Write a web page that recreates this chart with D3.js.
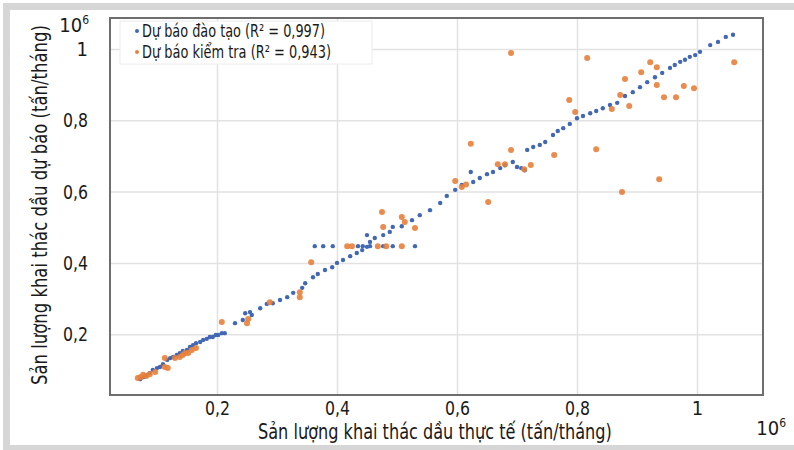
<!DOCTYPE html>
<html>
<head>
<meta charset="utf-8">
<script src="https://cdn.jsdelivr.net/npm/d3@7"></script>
<style>
  body { margin: 0; background: #fff; }
  svg text { font-family: "Liberation Sans Narrow", "DejaVu Sans Condensed", sans-serif; fill: #1a1a1a; }
</style>
</head>
<body>
<div class="canvas"></div>
<script>
const W = 794, H = 450;
const padL = 110, padR = 763, padT = 18, padB = 395;

// training forecast (blue), values in 10^6 t/month
const trainX = [0.072,0.078,0.083,0.088,0.093,0.100,0.105,0.110,0.117,0.122,0.127,0.133,0.138,0.143,0.150,0.155,0.160,0.165,0.172,0.177,0.183,0.188,0.193,0.198,0.202,0.208,0.213,
  0.230,0.243,0.258,0.247,0.255,0.272,0.283,0.293,0.305,0.317,0.327,0.342,0.347,0.360,0.368,0.380,0.392,0.400,0.410,0.422,0.433,0.442,0.450,0.455,0.450,0.463,0.477,0.488,0.493,0.508,0.525,0.538,0.555,0.572,0.583,
  0.363,0.377,0.393,0.435,0.443,0.455,0.477,0.493,0.530,
  0.597,0.608,0.623,0.627,0.638,0.650,0.660,0.672,0.680,0.693,0.700,0.707,0.713,0.717,0.727,0.738,0.747,0.760,0.768,0.777,0.788,0.800,0.810,0.822,0.832,0.843,0.855,0.867,0.880,0.893,0.905,0.917,0.930,0.942,0.955,0.963,0.972,0.980,0.988,0.997,1.005,1.022,1.035,1.048,1.060];
const trainY = [0.074,0.080,0.086,0.091,0.100,0.105,0.108,0.116,0.128,0.133,0.136,0.142,0.147,0.153,0.156,0.164,0.169,0.175,0.178,0.184,0.187,0.192,0.192,0.198,0.198,0.203,0.203,
  0.231,0.240,0.254,0.259,0.262,0.273,0.285,0.287,0.296,0.304,0.316,0.330,0.343,0.360,0.369,0.380,0.388,0.400,0.408,0.419,0.428,0.436,0.445,0.459,0.478,0.470,0.478,0.487,0.501,0.503,0.520,0.534,0.548,0.568,0.588,
  0.447,0.447,0.447,0.447,0.447,0.447,0.447,0.447,0.447,
  0.605,0.619,0.655,0.627,0.638,0.649,0.655,0.666,0.674,0.683,0.669,0.666,0.660,0.717,0.725,0.731,0.739,0.759,0.770,0.778,0.790,0.806,0.812,0.820,0.826,0.834,0.843,0.849,0.868,0.879,0.893,0.907,0.921,0.933,0.947,0.955,0.964,0.970,0.978,0.983,0.992,1.011,1.020,1.034,1.040];

// test forecast (orange)
const testX = [0.068,0.073,0.077,0.082,0.088,0.097,0.113,0.118,0.113,0.130,0.138,0.143,0.147,0.152,0.158,0.165,
  0.208,0.250,0.252,0.288,0.338,0.338,0.357,0.417,0.425,0.468,0.482,0.508,0.475,0.477,0.508,0.513,0.530,
  0.597,0.608,0.615,0.623,0.652,0.668,0.680,0.690,0.712,0.723,0.762,0.787,0.797,0.832,0.690,0.817,0.858,0.872,0.875,0.887,0.880,0.907,0.922,0.933,0.933,0.937,0.945,0.965,0.978,0.995,1.062];
const testY = [0.077,0.080,0.086,0.083,0.088,0.094,0.108,0.105,0.133,0.133,0.136,0.142,0.147,0.147,0.156,0.161,
  0.234,0.231,0.243,0.290,0.318,0.304,0.402,0.447,0.447,0.447,0.447,0.447,0.543,0.501,0.529,0.515,0.498,
  0.630,0.613,0.620,0.734,0.571,0.677,0.677,0.717,0.663,0.675,0.703,0.857,0.823,0.719,0.989,0.975,0.832,0.871,0.599,0.840,0.916,0.935,0.963,0.949,0.899,0.635,0.865,0.865,0.896,0.890,0.963];

const ticks = [0.2, 0.4, 0.6, 0.8, 1];
const seriesNames = ["Dự báo đào tạo (R² = 0,997)", "Dự báo kiểm tra (R² = 0,943)"];
const colors = ["#4268b5", "#e8803a"];

const fmt = d => d === 1 ? "1" : d3.format(".1f")(d).replace(".", ",");

const svg = d3.select(".canvas").append("svg")
  .attr("width", W).attr("height", H);

// scanned frame
svg.append("rect").attr("x", 3).attr("y", 3).attr("width", W).attr("height", H).attr("fill", "#d6d6d6");
svg.append("rect").attr("x", 10).attr("y", 10).attr("width", W).attr("height", 435).attr("fill", "#fff");

const x = d3.scaleLinear().domain([0.0217, 1.11]).range([padL, padR]);
const y = d3.scaleLinear().domain([0.0295, 1.087]).range([padB, padT]);

// grid
svg.append("g").attr("transform", `translate(0,${padB})`)
  .call(d3.axisBottom(x).tickValues(ticks).tickSize(-(padB - padT)).tickFormat(""))
  .call(g => g.select(".domain").remove())
  .selectAll("line").attr("stroke", "#e2e2e2").attr("stroke-width", 1.5);
svg.append("g").attr("transform", `translate(${padL},0)`)
  .call(d3.axisLeft(y).tickValues(ticks).tickSize(-(padR - padL)).tickFormat(""))
  .call(g => g.select(".domain").remove())
  .selectAll("line").attr("stroke", "#e2e2e2").attr("stroke-width", 1.5);

// axes labels
const xAxis = svg.append("g").attr("transform", `translate(0,${padB})`)
  .call(d3.axisBottom(x).tickValues(ticks).tickSize(0).tickPadding(6).tickFormat(fmt));
const yAxis = svg.append("g").attr("transform", `translate(${padL},0)`)
  .call(d3.axisLeft(y).tickValues(ticks).tickSize(0).tickPadding(22).tickFormat(fmt));
[xAxis, yAxis].forEach(g => {
  g.attr("font-family", null).attr("font-size", null);
  g.select(".domain").remove();
  g.selectAll("text").attr("font-size", 20)
    .attr("textLength", d => d === 1 ? null : 25).attr("lengthAdjust", "spacingAndGlyphs");
});

// points
const train = trainX.map((v, i) => [v, trainY[i]]);
const test = testX.map((v, i) => [v, testY[i]]);
svg.append("g").selectAll("circle").data(train).enter().append("circle")
  .attr("cx", d => x(d[0])).attr("cy", d => y(d[1])).attr("r", 2.2).attr("fill", colors[0]);
svg.append("g").selectAll("circle").data(test).enter().append("circle")
  .attr("cx", d => x(d[0])).attr("cy", d => y(d[1])).attr("r", 3).attr("fill", colors[1]).attr("opacity", 0.9);

// plot frame
svg.append("rect").attr("x", padL).attr("y", padT).attr("width", padR - padL).attr("height", padB - padT)
  .attr("fill", "none").attr("stroke", "#6e6e6e").attr("stroke-width", 2);

// legend
const lg = svg.append("g");
lg.append("rect").attr("x", 120).attr("y", 21).attr("width", 252).attr("height", 43)
  .attr("fill", "#fff").attr("stroke", "#ececec");
const legendLen = [183, 189];
seriesNames.forEach((name, i) => {
  lg.append("circle").attr("cx", 137).attr("cy", 31 + i * 21).attr("r", 2).attr("fill", colors[i]);
  lg.append("text").attr("x", 142).attr("y", 37 + i * 21).attr("font-size", 17)
    .attr("textLength", legendLen[i]).attr("lengthAdjust", "spacingAndGlyphs").text(name);
});

// exponent labels
const exp = (px, py) => {
  const t = svg.append("text").attr("x", px).attr("y", py).attr("font-size", 20).attr("text-anchor", "end");
  t.append("tspan").text("10");
  t.append("tspan").attr("font-size", 12).attr("dy", -8).text("6");
};
exp(89, 32);
exp(786, 435);

// axis titles, squeezed horizontally to mimic the condensed face
const squeeze = (sel, target, base) => {
  const k = target / sel.node().getComputedTextLength();
  sel.attr("transform", `${base} scale(${k},1)`);
};
const xt = svg.append("text").attr("font-size", 21)
  .text("Sản lượng khai thác dầu thực tế (tấn/tháng)");
squeeze(xt, 354, "translate(258,439)");
const yt = svg.append("text").attr("font-size", 21)
  .text("Sản lượng khai thác dầu dự báo (tấn/tháng)");
squeeze(yt, 360, "translate(47,385) rotate(-90)");
</script>
</body>
</html>
